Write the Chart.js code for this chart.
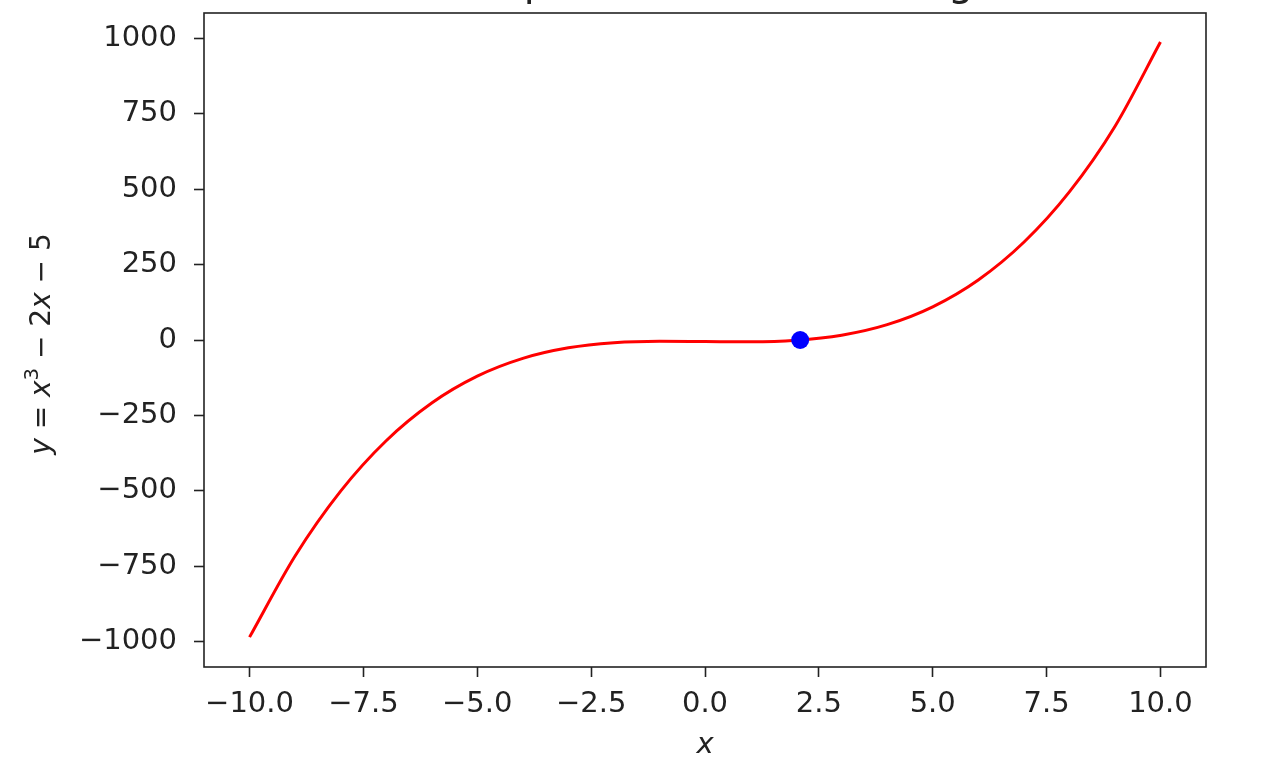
<!DOCTYPE html>
<html>
<head>
<meta charset="utf-8">
<script src="https://cdn.jsdelivr.net/npm/chart.js@4.4.1/dist/chart.umd.min.js"></script>
<style>
  html, body { margin: 0; padding: 0; background: #fff; overflow: hidden; }
  #wrap { position: absolute; left: 0; top: -40px; width: 1266px; height: 812px; }
</style>
</head>
<body>
<div id="wrap"><canvas id="chart" width="1266" height="812"></canvas></div>
<script>
// values
const xValues = [-10, -9, -8, -7, -6, -5, -4, -3, -2, -1, 0, 1, 2, 3, 4, 5, 6, 7, 8, 9, 10];
const yValues = [-985, -716, -501, -334, -209, -120, -61, -26, -9, -4, -5, -6, -1, 16, 51, 110, 199, 324, 491, 708, 988];
const rootX = [2.09];
const rootY = [0];
const xTicks = [-10, -7.5, -5, -2.5, 0, 2.5, 5, 7.5, 10];
const yTicks = [-1000, -750, -500, -250, 0, 250, 500, 750, 1000];
const titleText = 'The plot of the root finding';

const FONT = 'DejaVu Sans';
const INK = '#222';
const minus = s => String(s).replace('-', '\u2212');

// frame around the axes, like matplotlib spines
const framePlugin = {
  id: 'frame',
  afterDatasetsDraw(chart) {
    const a = chart.chartArea, ctx = chart.ctx;
    ctx.save();
    ctx.strokeStyle = INK;
    ctx.lineWidth = 1.6;
    ctx.strokeRect(a.left, a.top, a.right - a.left, a.bottom - a.top);
    ctx.restore();
  }
};

// y label with mixed italic / upright parts
const ylabelPlugin = {
  id: 'ylabel',
  afterDraw(chart) {
    const ctx = chart.ctx;
    const size = 28;
    const parts = [
      {t: 'y', it: true}, {t: ' = ', it: false}, {t: 'x', it: true},
      {t: '3', sup: true}, {t: ' \u2212 2', it: false}, {t: 'x', it: true}, {t: ' \u2212 5', it: false}
    ];
    const fontOf = p => (p.it ? 'italic ' : '') + (p.sup ? size * 0.7 : size) + 'px "' + FONT + '"';
    ctx.save();
    let total = 0;
    parts.forEach(p => { ctx.font = fontOf(p); p.w = ctx.measureText(p.t).width; total += p.w; });
    const mid = (chart.chartArea.top + chart.chartArea.bottom) / 2;
    ctx.translate(50, mid + 4);
    ctx.rotate(-Math.PI / 2);
    ctx.fillStyle = INK;
    ctx.textBaseline = 'alphabetic';
    ctx.textAlign = 'left';
    let x = -total / 2;
    parts.forEach(p => {
      ctx.font = fontOf(p);
      ctx.fillText(p.t, x, p.sup ? -size * 0.42 : 0);
      x += p.w;
    });
    ctx.restore();
  }
};

const curve = xValues.map((x, i) => ({x: x, y: yValues[i]}));
const root = rootX.map((x, i) => ({x: x, y: rootY[i]}));

new Chart(document.getElementById('chart'), {
  type: 'scatter',
  data: {
    datasets: [
      {
        data: curve,
        showLine: true,
        borderColor: '#ff0000',
        borderWidth: 3,
        pointRadius: 0,
        cubicInterpolationMode: 'monotone',
        order: 1
      },
      {
        data: root,
        pointRadius: 9,
        pointHoverRadius: 9,
        backgroundColor: '#0000ff',
        borderWidth: 0,
        order: 0
      }
    ]
  },
  options: {
    responsive: false,
    animation: false,
    devicePixelRatio: 1,
    layout: { padding: { left: 0, right: 60, top: 0, bottom: 0 } },
    plugins: {
      legend: { display: false },
      tooltip: { enabled: false },
      title: {
        display: true,
        text: titleText,
        fullSize: false,
        color: INK,
        font: { family: FONT, size: 40, weight: 'normal', lineHeight: 1.2 },
        padding: { top: 1, bottom: 4 }
      }
    },
    scales: {
      x: {
        type: 'linear',
        min: -11,
        max: 11,
        afterBuildTicks: s => { s.ticks = xTicks.map(v => ({value: v})); },
        afterFit: s => { s.height = 105; },
        border: { display: false },
        grid: { drawOnChartArea: false, drawTicks: true, tickLength: 10, tickColor: INK, tickWidth: 1.6 },
        ticks: {
          color: INK,
          padding: 10,
          maxRotation: 0,
          font: { family: FONT, size: 29 },
          callback: v => minus(Number(v).toFixed(1))
        },
        title: {
          display: true,
          text: 'x',
          color: INK,
          font: { family: FONT, size: 29, style: 'italic' },
          padding: { top: 0, bottom: 9 }
        }
      },
      y: {
        type: 'linear',
        min: -1084,
        max: 1084,
        afterBuildTicks: s => { s.ticks = yTicks.map(v => ({value: v})); },
        afterFit: s => { s.width = 204; },
        border: { display: false },
        grid: { drawOnChartArea: false, drawTicks: true, tickLength: 10, tickColor: INK, tickWidth: 1.6 },
        ticks: {
          color: INK,
          padding: 17,
          font: { family: FONT, size: 29 },
          callback: v => minus(v)
        }
      }
    }
  },
  plugins: [framePlugin, ylabelPlugin]
});
</script>
</body>
</html>
